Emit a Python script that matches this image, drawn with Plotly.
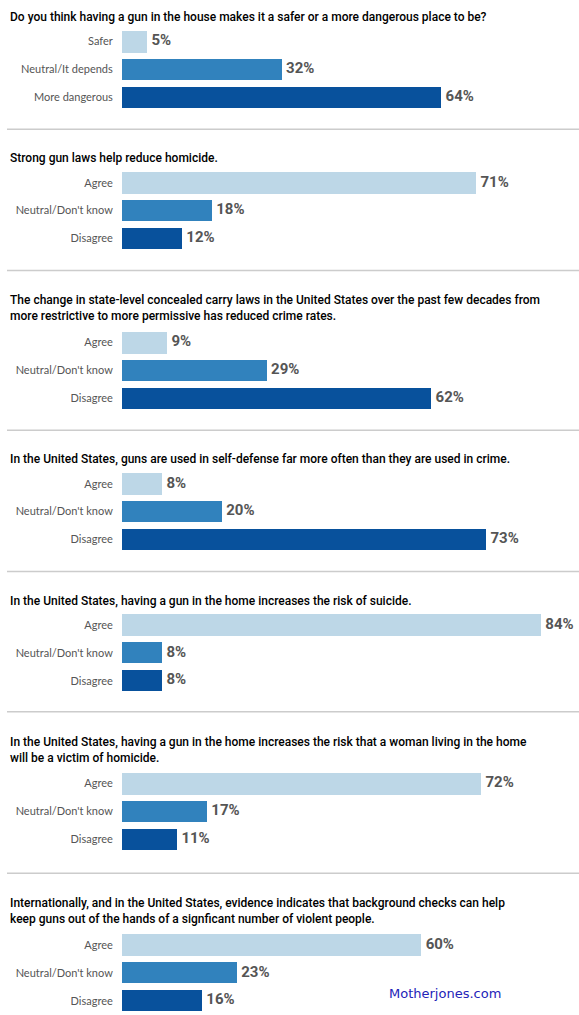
import plotly.graph_objects as go

# Survey data (percent of respondents)
questions = [
    "Do you think having a gun in the house makes it a safer or a more dangerous place to be?",
    "Strong gun laws help reduce homicide.",
    "The change in state-level concealed carry laws in the United States over the past few decades from<br>more restrictive to more permissive has reduced crime rates.",
    "In the United States, guns are used in self-defense far more often than they are used in crime.",
    "In the United States, having a gun in the home increases the risk of suicide.",
    "In the United States, having a gun in the home increases the risk that a woman living in the home<br>will be a victim of homicide.",
    "Internationally, and in the United States, evidence indicates that background checks can help<br>keep guns out of the hands of a signficant number of violent people.",
]
answers_q1 = ["Safer", "Neutral/It depends", "More dangerous"]
answers_std = ["Agree", "Neutral/Don't know", "Disagree"]

values_q1 = [5, 32, 64]
values_q2 = [71, 18, 12]
values_q3 = [9, 29, 62]
values_q4 = [8, 20, 73]
values_q5 = [84, 8, 8]
values_q6 = [72, 17, 11]
values_q7 = [60, 23, 16]

answers = [answers_q1] + [answers_std] * 6
values = [values_q1, values_q2, values_q3, values_q4, values_q5, values_q6, values_q7]

bar_colors = ["#bdd7e7", "#3182bd", "#08519c"]

W, H = 579, 1015
bar_left = 121.8          # px where bars start
px_per_pct = 4.985        # px per percentage point
slot = 27.8               # px between bar centres
bar_h = 21.3
# pixel rows of the grey rule above each question (first one is off-page)
seps = [-12, 129.3, 270.6, 430.3, 571.6, 711.8, 873.3]


def py(v):
    # pixel row -> paper y
    return 1 - v / H


fig = go.Figure()
annotations = []
shapes = []

title_font = dict(family="Roboto, Liberation Sans, sans-serif", size=12, color="#000000", weight=500)
value_font = dict(family="Roboto, Liberation Sans, sans-serif", size=15, color="#555555", weight="bold")

for i, (q, cats, vals) in enumerate(zip(questions, answers, values)):
    sep = seps[i]
    nlines = q.count("<br>") + 1
    if i > 0:
        shapes.append(dict(type="line", xref="paper", yref="paper",
                           x0=7 / W, x1=1, y0=py(sep), y1=py(sep),
                           line=dict(color="#cccccc", width=1.5)))
    title_y = sep + 29 + 8.8 * (nlines - 1)
    annotations.append(dict(x=8 / W, y=py(title_y), xref="paper", yref="paper",
                            text=q, showarrow=False, xanchor="left", yanchor="middle",
                            align="left", font=title_font))

    c1 = sep + 53.5 + 18.3 * (nlines - 1)
    top = c1 - slot / 2
    bottom = c1 + 2 * slot + slot / 2
    n = "" if i == 0 else str(i + 1)

    fig.add_trace(go.Bar(
        x=vals, y=cats, orientation="h",
        marker=dict(color=bar_colors, line=dict(width=0)),
        width=bar_h / slot,
        xaxis="x" + n, yaxis="y" + n,
        showlegend=False, hoverinfo="skip",
    ))
    # value labels just right of each bar (invisible marker gives the gap)
    fig.add_trace(go.Scatter(
        x=vals, y=cats, mode="markers+text",
        marker=dict(size=6, color="rgba(0,0,0,0)"),
        text=[f"{v}%" for v in vals],
        textposition="middle right",
        textfont=value_font,
        cliponaxis=False,
        xaxis="x" + n, yaxis="y" + n,
        showlegend=False, hoverinfo="skip",
    ))

    fig.layout["xaxis" + n] = dict(
        domain=[bar_left / W, 1],
        range=[0, (W - bar_left) / px_per_pct],
        visible=False, fixedrange=True,
        anchor="y" + n,
    )
    fig.layout["yaxis" + n] = dict(
        domain=[py(bottom), py(top)],
        range=[2.5, -0.5],
        type="category",
        categoryorder="array", categoryarray=cats,
        showgrid=False, zeroline=False, showline=False,
        ticks="", ticklabelstandoff=8,
        tickfont=dict(family="Lato, Open Sans, sans-serif", size=11, color="#555555"),
        anchor="x" + n, fixedrange=True,
    )

annotations.append(dict(x=445 / W, y=py(993), xref="paper", yref="paper",
                        text="Motherjones.com", showarrow=False,
                        xanchor="center", yanchor="middle",
                        font=dict(family="DejaVu Sans, sans-serif", size=13, color="#2323b8")))

fig.update_layout(
    width=W, height=H,
    margin=dict(l=0, r=0, t=0, b=0),
    paper_bgcolor="white", plot_bgcolor="white",
    annotations=annotations, shapes=shapes,
    bargap=0,
)

# drop the page's default body margin so the figure sits at the window origin
fig.write_html("out.html", config={"displayModeBar": False},
               post_script="document.body.style.margin='0';document.body.style.overflow='hidden';")
